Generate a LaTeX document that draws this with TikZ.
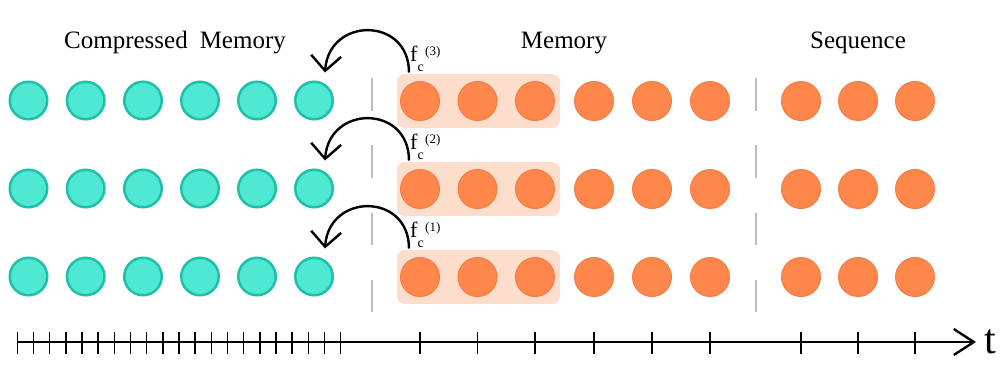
\documentclass[tikz,border=0pt]{standalone}
\usepackage{fontspec}
\setmainfont{Liberation Serif}
\usetikzlibrary{arrows.meta}
\definecolor{tealfill}{HTML}{4FE8D2}
\definecolor{tealline}{HTML}{20C0A8}
\definecolor{orfill}{HTML}{FF874B}
\definecolor{orline}{HTML}{F47E44}
\definecolor{peach}{HTML}{FDDDCC}
\definecolor{sepgray}{HTML}{BDBDBD}
\tikzset{
  tealdot/.style={circle, minimum size=37.5pt, inner sep=0pt, fill=tealfill, draw=tealline, line width=2.5pt},
  ordot/.style={circle, minimum size=39pt, inner sep=0pt, fill=orfill, draw=orline, line width=1pt},
  groupbox/.style={rectangle, rounded corners=8pt, fill=peach, minimum width=163pt, minimum height=54pt, inner sep=0pt},
  title/.style={anchor=base, inner sep=0pt, font=\fontsize{25}{28}\selectfont},
  flabel/.style={anchor=base west, inner sep=0pt, font=\fontsize{22}{24}\selectfont},
  curvearrow/.style={line width=2.4pt, -{Straight Barb[length=15pt, width=30pt]}},
  sepline/.style={sepgray, line width=2pt, dash pattern=on 32.5pt off 34.8pt},
  axisline/.style={line width=2.4pt, -{Straight Barb[length=20pt, width=26pt]}},
  tickline/.style={line width=1.4pt},
}
\begin{document}
\begin{tikzpicture}[x=1pt, y=-1pt]
\useasboundingbox (0,0) rectangle (1005,381);

% titles
\node[title] (tcm) at (175,48) {Compressed\hspace{12pt}Memory};
\node[title] (tm) at (564,48) {Memory};
\node[title] (ts) at (858,48) {Sequence};

% separators
\draw[sepline] (372,78) -- (372,313);
\draw[sepline] (755.5,78) -- (755.5,313);

\foreach \r/\y/\k in {1/100.5/3, 2/188.5/2, 3/276.5/1} {
  \node[groupbox] (box\r) at (478.5,\y+0.5) {};
  \foreach \x [count=\i] in {28.5,85.7,143,200,257,314}
    \node[tealdot] (c\r-\i) at (\x,\y) {};
  \foreach \x [count=\i] in {420,477.5,535,594,652,710}
    \node[ordot] (m\r-\i) at (\x,\y+0.5) {};
  \foreach \x [count=\i] in {801,858,915}
    \node[ordot] (q\r-\i) at (\x,\y+0.5) {};
  \coordinate (s\r) at (409,\y-28);
  \coordinate (e\r) at (325,\y-28);
  \draw[curvearrow] (s\r) .. controls +(0,-56) and +(4,-56) .. (e\r);
  \node[flabel] (f\r) at (410,\y-39) {f\raisebox{-10pt}{\fontsize{14}{14}\selectfont c}\hspace{1.5pt}\raisebox{6pt}{\fontsize{13}{13}\selectfont (\k)}};
}

% time axis
\coordinate (a0) at (17,342);
\coordinate (a1) at (976,342);
\draw[axisline] (a0) -- (a1);
\foreach \i in {0,...,20}
  \draw[tickline] ({17.3+16.17*\i},332) -- ({17.3+16.17*\i},354);
\foreach \x in {420,477.5,535,594,652,710,801,858,915}
  \draw[tickline] (\x,332) -- (\x,354);
\node[anchor=base west, inner sep=0pt, font=\fontsize{42}{44}\selectfont] (tl) at (984,353) {t};
\end{tikzpicture}
\end{document}
